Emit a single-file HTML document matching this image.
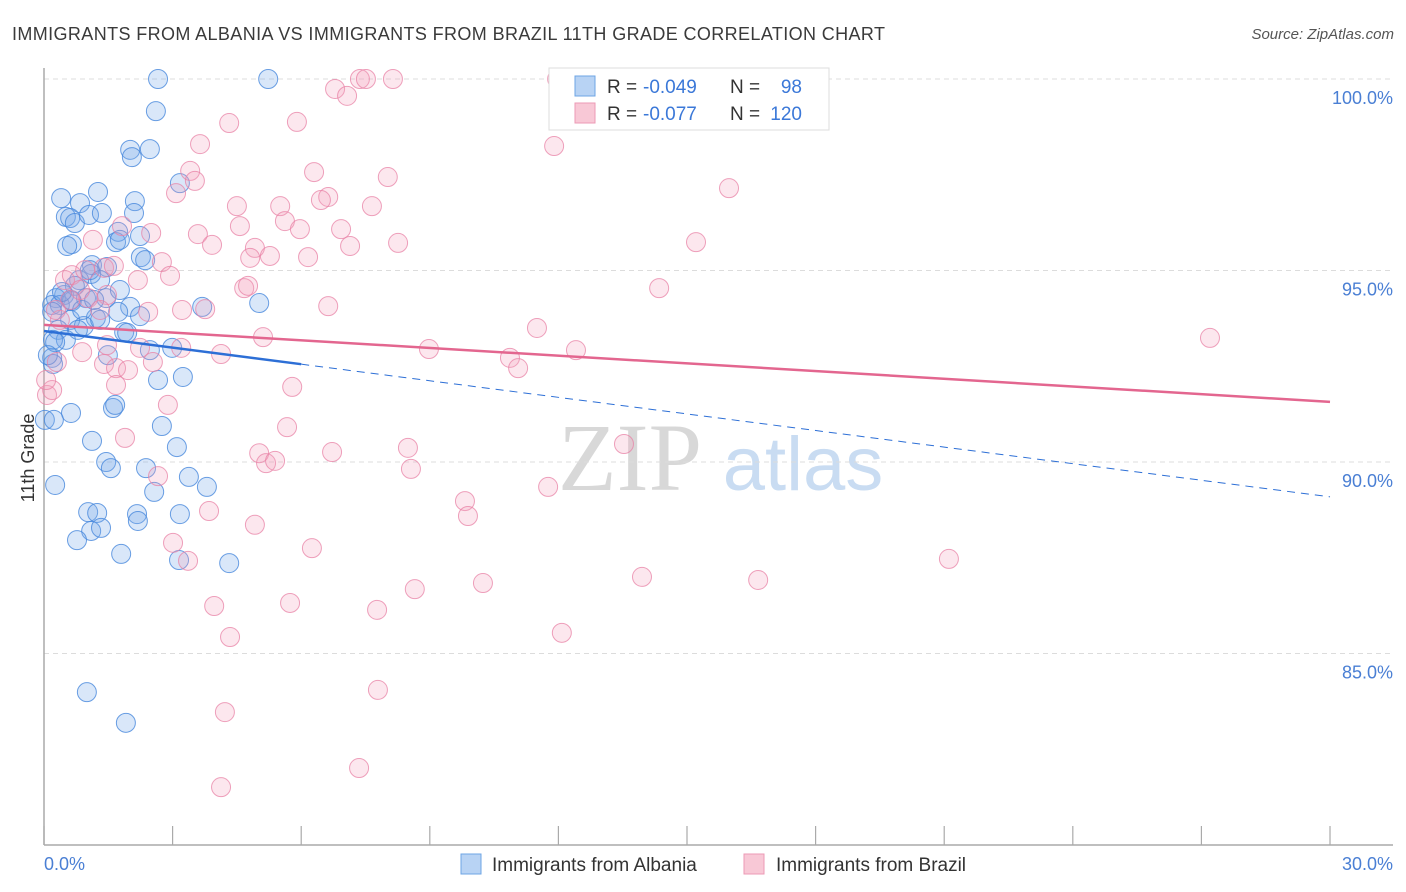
<!DOCTYPE html>
<html><head><meta charset="utf-8"><style>
body{margin:0;background:#fff;font-family:"Liberation Sans",sans-serif}
#wrap{position:relative;width:1406px;height:892px;overflow:hidden}
</style></head><body>
<div id="wrap">
<svg id="chart" width="1406" height="892" xmlns="http://www.w3.org/2000/svg">
<text x="12" y="40" font-size="18" fill="#3a3a3a" textLength="873" lengthAdjust="spacing">IMMIGRANTS FROM ALBANIA VS IMMIGRANTS FROM BRAZIL 11TH GRADE CORRELATION CHART</text>
<text x="1394" y="39" font-size="15" fill="#555" text-anchor="end" font-style="italic">Source: ZipAtlas.com</text>
<text x="630" y="490" font-size="96" fill="#d8d8d8" font-family="Liberation Serif,serif" text-anchor="middle">ZIP</text>
<text x="803" y="490" font-size="76" fill="#c9dcf2" text-anchor="middle">atlas</text>
<g id="grid"></g><g id="axes"></g><g id="pts"></g><g id="trend"></g>
<text x="34" y="458" font-size="18" fill="#333" text-anchor="middle" transform="rotate(-90 34 458)">11th Grade</text>
<text x="44" y="870" font-size="18" fill="#4a7fd4">0.0%</text>
<text x="1393" y="870" font-size="18" fill="#4a7fd4" text-anchor="end">30.0%</text>
<g>
<rect x="549" y="68" width="280" height="62" fill="#fff" stroke="#ddd"/>
<rect x="575" y="76" width="20" height="20" fill="#b8d3f4" stroke="#6ea4e4"/>
<rect x="575" y="103" width="20" height="20" fill="#f8c8d6" stroke="#ec9ab5"/>
<text x="607" y="93" font-size="19" fill="#333">R =</text>
<text x="643" y="93" font-size="19" fill="#3b78d8">-0.049</text>
<text x="730" y="93" font-size="19" fill="#333">N =</text>
<text x="802" y="93" font-size="19" fill="#3b78d8" text-anchor="end">98</text>
<text x="607" y="120" font-size="19" fill="#333">R =</text>
<text x="643" y="120" font-size="19" fill="#3b78d8">-0.077</text>
<text x="730" y="120" font-size="19" fill="#333">N =</text>
<text x="802" y="120" font-size="19" fill="#3b78d8" text-anchor="end">120</text>
</g>
<g>
<rect x="461" y="854" width="20" height="20" fill="#b8d3f4" stroke="#6ea4e4"/>
<text x="492" y="871" font-size="19" fill="#333">Immigrants from Albania</text>
<rect x="744" y="854" width="20" height="20" fill="#f8c8d6" stroke="#ec9ab5"/>
<text x="776" y="871" font-size="19" fill="#333">Immigrants from Brazil</text>
</g>
</svg>
</div>
<script>
const yTicks=[100,95,90,85];
const xTicks=[0,3,6,9,12,15,18,21,24,27,30];
const blueTrend=[93.42,89.09];
const pinkTrend=[93.58,91.57];
const blueSolidEnd=6.0;
const bluePx=[[158,79],[268,79],[156,111],[130,150],[132,157],[150,149],[180,183],[98,192],[61,198],[80,203],[135,201],[66,217],[70,218],[75,223],[89,215],[102,213],[134,213],[118,232],[140,236],[116,242],[72,244],[67,246],[92,265],[107,267],[91,274],[79,280],[75,286],[64,295],[56,298],[52,305],[60,305],[72,301],[86,298],[106,298],[130,307],[52,312],[202,307],[259,303],[118,312],[96,318],[70,320],[84,326],[58,330],[100,320],[66,340],[78,330],[124,332],[127,333],[53,340],[140,316],[172,348],[108,355],[52,358],[53,364],[55,342],[158,380],[183,377],[71,413],[113,408],[115,405],[45,420],[55,485],[92,441],[162,426],[177,447],[106,462],[111,468],[146,468],[189,477],[207,487],[154,492],[137,514],[138,521],[88,512],[97,513],[91,531],[101,528],[77,540],[121,554],[180,514],[179,560],[229,563],[87,692],[126,723],[71,300],[62,292],[141,257],[145,260],[120,240],[82,310],[94,300],[90,270],[54,420],[48,355],[150,350],[120,290],[100,280]];
const pinkPx=[[47,395],[52,390],[360,79],[366,79],[393,79],[557,79],[614,79],[740,79],[335,89],[347,96],[229,123],[297,122],[200,144],[554,146],[190,171],[195,181],[314,172],[388,177],[729,188],[176,193],[237,206],[280,206],[328,197],[321,200],[372,206],[240,226],[285,221],[300,229],[341,229],[122,226],[151,233],[198,234],[212,245],[255,248],[350,246],[398,243],[696,242],[93,240],[65,280],[72,275],[85,270],[104,268],[114,266],[138,280],[162,262],[170,276],[250,258],[270,256],[308,257],[244,288],[248,286],[659,288],[182,310],[205,309],[328,306],[107,295],[148,312],[537,328],[263,337],[429,349],[576,350],[510,358],[518,368],[181,348],[221,354],[1210,338],[107,345],[140,348],[153,362],[104,364],[116,368],[128,370],[116,385],[82,352],[57,362],[168,405],[292,387],[287,427],[125,438],[158,476],[259,453],[266,463],[275,461],[332,452],[408,448],[411,469],[624,444],[548,487],[465,501],[468,516],[209,511],[255,525],[173,543],[188,561],[312,548],[949,559],[642,577],[758,580],[483,583],[415,589],[214,606],[290,603],[377,610],[562,633],[230,637],[378,690],[225,712],[359,768],[221,787],[60,320],[88,298],[70,300],[56,310],[80,290],[100,310],[46,380]];
const blueX=bluePx.map(p=>+((p[0]-44)/42.867).toFixed(2));
const blueY=bluePx.map(p=>+(100-(p[1]-79)/38.3).toFixed(2));
const pinkX=pinkPx.map(p=>+((p[0]-44)/42.867).toFixed(2));
const pinkY=pinkPx.map(p=>+(100-(p[1]-79)/38.3).toFixed(2));

const X=v=>44+v*42.867, Y=v=>79+(100-v)*38.3;
const NS="http://www.w3.org/2000/svg";
function mk(t,a,parent){const e=document.createElementNS(NS,t);for(const k in a)e.setAttribute(k,a[k]);parent.appendChild(e);return e;}
const grid=document.getElementById('grid'),axes=document.getElementById('axes'),pts=document.getElementById('pts'),tr=document.getElementById('trend');
yTicks.forEach(v=>{
 const l=mk('line',{x1:44,x2:1393,y1:Y(v),y2:Y(v),stroke:'#dcdcdc','stroke-dasharray':'5,4'},grid);
 
 
 const t=mk('text',{x:1393,y:Y(v)+25,'font-size':18,fill:'#4a7fd4','text-anchor':'end'},grid);
 t.textContent=v.toFixed(1)+'%';
 
 
});
const ax=mk('line',{x1:44,x2:44,y1:68,y2:845,stroke:'#aaa','stroke-width':1.5},axes);


const bx=mk('line',{x1:44,x2:1393,y1:845,y2:845,stroke:'#aaa','stroke-width':1.5},axes);


xTicks.forEach(v=>{
 const t=mk('line',{x1:X(v),x2:X(v),y1:826,y2:845,stroke:'#aaa','stroke-width':1.2},axes);
 
 
});
function draw(xs,ys,fill,stroke,name){
 xs.forEach((x,i)=>{
  const c=mk('circle',{cx:X(x),cy:Y(ys[i]),r:9.5,fill:fill,stroke:stroke,'stroke-width':1},pts);
  
  
 });
}
draw(blueX,blueY,'rgba(120,170,232,0.28)','rgba(70,135,220,0.8)','albania-point');
draw(pinkX,pinkY,'rgba(242,160,188,0.25)','rgba(232,130,165,0.75)','brazil-point');
const bY=x=>blueTrend[0]+(blueTrend[1]-blueTrend[0])*x/30;
const l1=mk('line',{x1:X(0),y1:Y(bY(0)),x2:X(blueSolidEnd),y2:Y(bY(blueSolidEnd)),stroke:'#2d6fd6','stroke-width':2.5},tr);


const l2=mk('line',{x1:X(blueSolidEnd),y1:Y(bY(blueSolidEnd)),x2:X(30),y2:Y(bY(30)),stroke:'#2d6fd6','stroke-width':1,'stroke-dasharray':'8,6'},tr);


const l3=mk('line',{x1:X(0),y1:Y(pinkTrend[0]),x2:X(30),y2:Y(pinkTrend[1]),stroke:'#e3668f','stroke-width':2.5},tr);


</script>
</body></html>
